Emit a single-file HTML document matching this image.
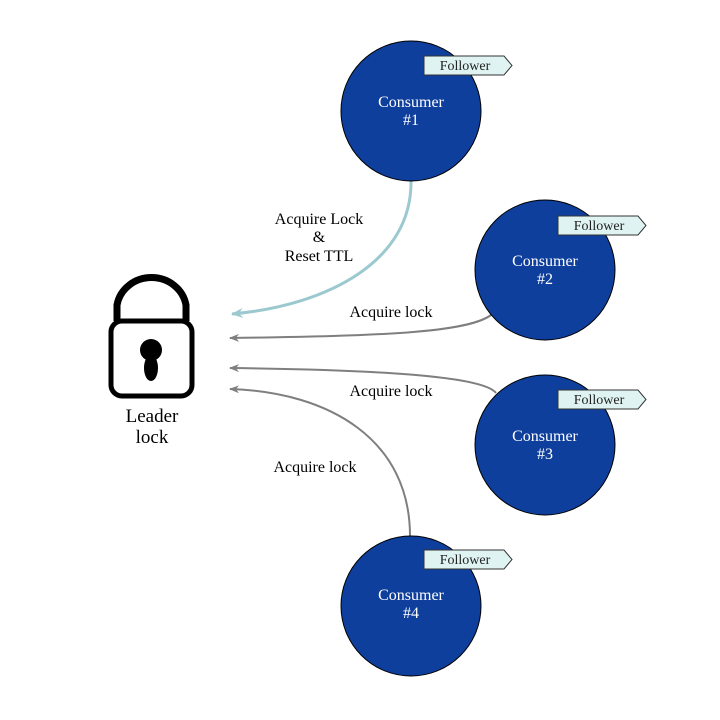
<!DOCTYPE html>
<html><head><meta charset="utf-8"><style>
html,body{margin:0;padding:0;background:#fff;}
svg{display:block;}
text{font-family:"Liberation Serif",serif;}
</style></head><body>
<svg width="720" height="720" viewBox="0 0 720 720" xmlns="http://www.w3.org/2000/svg">
<defs>
<marker id="ag" markerWidth="10" markerHeight="8" refX="9" refY="4" orient="auto" markerUnits="userSpaceOnUse">
<path d="M0,0 L10,4 L0,8 L3,4 Z" fill="#7f7f7f"/></marker>
<marker id="ac" markerWidth="12" markerHeight="10" refX="11" refY="5" orient="auto" markerUnits="userSpaceOnUse">
<path d="M0,0 L12,5 L0,10 L4,5 Z" fill="#9cc9d0"/></marker>
</defs>
<path d="M411,181 C412,260 330,305 232,314" fill="none" stroke="#9cc9d0" stroke-width="3" marker-end="url(#ac)"/>
<path d="M495,311 C480,333 380,336 230,338" fill="none" stroke="#7f7f7f" stroke-width="2" marker-end="url(#ag)"/>
<path d="M496,393 C485,378 400,370 230,368" fill="none" stroke="#7f7f7f" stroke-width="2" marker-end="url(#ag)"/>
<path d="M410,536 C410,440 330,392 230,389" fill="none" stroke="#7f7f7f" stroke-width="2" marker-end="url(#ag)"/>
<g font-size="16" fill="#000" text-anchor="middle">
<text x="319" y="224">Acquire Lock</text>
<text x="319" y="242">&amp;</text>
<text x="319" y="261">Reset TTL</text>
<text x="391" y="317">Acquire lock</text>
<text x="391" y="396">Acquire lock</text>
<text x="315" y="472">Acquire lock</text>
</g>
<path d="M117,321 L117,305 A35,33 0 0 1 186,305 L186,321" fill="none" stroke="#000" stroke-width="7"/>
<rect x="111" y="321" width="81" height="75" rx="11" fill="#fff" stroke="#000" stroke-width="5"/>
<circle cx="151" cy="350" r="11" fill="#000"/>
<ellipse cx="151" cy="368" rx="7" ry="13" fill="#000"/>
<g font-size="19" text-anchor="middle"><text x="152" y="422">Leader</text><text x="152" y="443">lock</text></g>
<g stroke="#000" stroke-width="1" fill="#0f3f9c">
<circle cx="411" cy="111" r="70"/>
<circle cx="545" cy="270" r="70"/>
<circle cx="545" cy="445" r="70"/>
<circle cx="411" cy="606" r="70"/>
</g>
<g fill="#fff" font-size="16" text-anchor="middle">
<text x="411" y="107">Consumer</text><text x="411" y="125">#1</text>
<text x="545" y="266">Consumer</text><text x="545" y="284">#2</text>
<text x="545" y="441">Consumer</text><text x="545" y="459">#3</text>
<text x="411" y="600">Consumer</text><text x="411" y="618">#4</text>
</g>
<g stroke="#333" stroke-width="1" fill="#def3f2">
<path d="M424,56 L504,56 L512,65.5 L504,75 L424,75 Z"/>
<path d="M558,216 L638,216 L646,225.5 L638,235 L558,235 Z"/>
<path d="M558,390 L638,390 L646,399.5 L638,409 L558,409 Z"/>
<path d="M424,550 L504,550 L512,559.5 L504,569 L424,569 Z"/>
</g>
<g font-size="14" fill="#222" text-anchor="middle">
<text x="465" y="70">Follower</text>
<text x="599" y="230">Follower</text>
<text x="599" y="404">Follower</text>
<text x="465" y="564">Follower</text>
</g>
</svg>
</body></html>
